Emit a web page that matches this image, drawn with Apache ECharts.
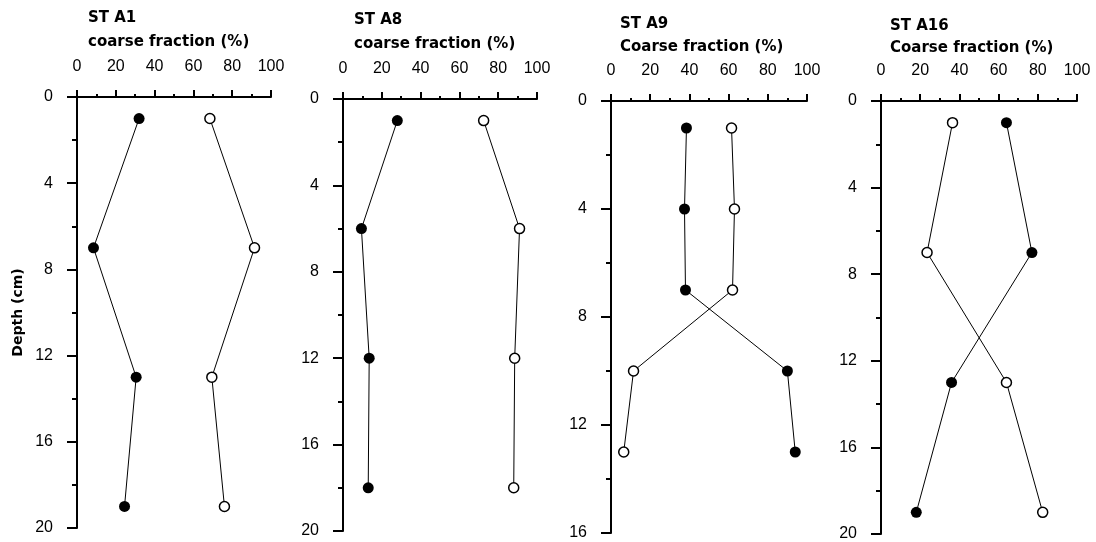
<!DOCTYPE html>
<html>
<head>
<meta charset="utf-8">
<script src="https://cdn.jsdelivr.net/npm/echarts@6/dist/echarts.min.js"></script>
<style>
html,body{margin:0;padding:0;background:#fff;}
#chart{width:1096px;height:542px;}
</style>
</head>
<body>
<div id="chart"></div>
<script>
// ---- data ----
var stations = ['ST A1', 'ST A8', 'ST A9', 'ST A16'];
var subtitles = ['coarse fraction (%)', 'coarse fraction (%)', 'Coarse fraction (%)', 'Coarse fraction (%)'];
var xTicks = [0, 20, 40, 60, 80, 100];
var depthMax = [20, 20, 16, 20];

var a1Depth = [1, 7, 13, 19];
var a1Filled = [32, 8.5, 30.5, 24.5];
var a1Open = [68.5, 91.5, 69.5, 76];

var a8Depth = [1, 6, 12, 18];
var a8Filled = [28, 9.5, 13.5, 13];
var a8Open = [72.5, 91, 88.5, 88];

var a9Depth = [1, 4, 7, 10, 13];
var a9Filled = [38.5, 37.5, 38, 90, 94];
var a9Open = [61.5, 63, 62, 11.5, 6.5];

var a16Depth = [1, 7, 13, 19];
var a16Filled = [64, 77, 36, 18];
var a16Open = [36.5, 23.5, 64, 82.5];

var depths = [a1Depth, a8Depth, a9Depth, a16Depth];
var filled = [a1Filled, a8Filled, a9Filled, a16Filled];
var open = [a1Open, a8Open, a9Open, a16Open];

// ---- layout ----
var grids = [
  {left: 77, top: 97, width: 194, height: 431},
  {left: 343, top: 99, width: 194, height: 432},
  {left: 611, top: 101, width: 196, height: 432},
  {left: 881, top: 101, width: 196, height: 433}
];
var titlePos = [
  {x: 88, y1: 20, y2: 44},
  {x: 354, y1: 22, y2: 46},
  {x: 620, y1: 26, y2: 49},
  {x: 890, y1: 28, y2: 50}
];

var FONT = '"Liberation Sans", Arial, Helvetica, sans-serif';
var BFONT = '"DejaVu Sans", Arial, sans-serif';

var option = {
  backgroundColor: '#fff',
  animation: false,
  grid: [], xAxis: [], yAxis: [], series: [], graphic: []
};

function pairs(xs, ds) {
  return ds.map(function (d, i) { return [xs[i], d]; });
}

for (var i = 0; i < 4; i++) {
  option.grid.push(Object.assign({containLabel: false}, grids[i]));
  option.xAxis.push({
    gridIndex: i, type: 'value', position: 'top', min: 0, max: 100, interval: 20,
    axisLine: {show: true, onZero: false, lineStyle: {color: '#000', width: 2}},
    axisTick: {show: true, inside: false, length: 7, lineStyle: {color: '#000', width: 2}},
    minorTick: {show: true, splitNumber: 2, length: 3, lineStyle: {color: '#000', width: 2}},
    splitLine: {show: false},
    axisLabel: {
      margin: 22, color: '#000', fontSize: 16, fontFamily: FONT,
      formatter: function (v) { return xTicks.indexOf(v) >= 0 ? String(v) : ''; }
    }
  });
  option.yAxis.push({
    gridIndex: i, type: 'value', inverse: true, min: 0, max: depthMax[i], interval: 4,
    name: i === 0 ? 'Depth (cm)' : '',
    nameLocation: 'middle', nameGap: 52, nameRotate: 90,
    nameTextStyle: {color: '#000', fontSize: 14, fontWeight: 'bold', fontFamily: BFONT},
    axisLine: {show: true, onZero: false, lineStyle: {color: '#000', width: 2}},
    axisTick: {show: true, inside: false, length: 10, lineStyle: {color: '#000', width: 2}},
    minorTick: {show: true, splitNumber: 2, length: 5, lineStyle: {color: '#000', width: 2}},
    splitLine: {show: false},
    axisLabel: {margin: 24, color: '#000', fontSize: 16, fontFamily: FONT}
  });
  option.series.push({
    type: 'line', xAxisIndex: i, yAxisIndex: i,
    data: pairs(filled[i], depths[i]),
    symbol: 'circle', symbolSize: 11,
    lineStyle: {color: '#000', width: 1},
    itemStyle: {color: '#000', borderColor: '#000', borderWidth: 0},
    z: 3
  });
  option.series.push({
    type: 'line', xAxisIndex: i, yAxisIndex: i,
    data: pairs(open[i], depths[i]),
    symbol: 'circle', symbolSize: 10,
    lineStyle: {color: '#000', width: 1},
    itemStyle: {color: '#fff', borderColor: '#000', borderWidth: 1.5},
    z: 3
  });
  option.graphic.push({
    type: 'text', left: titlePos[i].x, top: titlePos[i].y1 - 9,
    style: {text: stations[i], fill: '#000', font: 'bold 15px ' + BFONT}
  });
  option.graphic.push({
    type: 'text', left: titlePos[i].x, top: titlePos[i].y2 - 9,
    style: {text: subtitles[i], fill: '#000', font: 'bold 15px ' + BFONT}
  });
}

var chart = echarts.init(document.getElementById('chart'), null, {renderer: 'canvas'});
chart.setOption(option);
</script>
</body>
</html>
